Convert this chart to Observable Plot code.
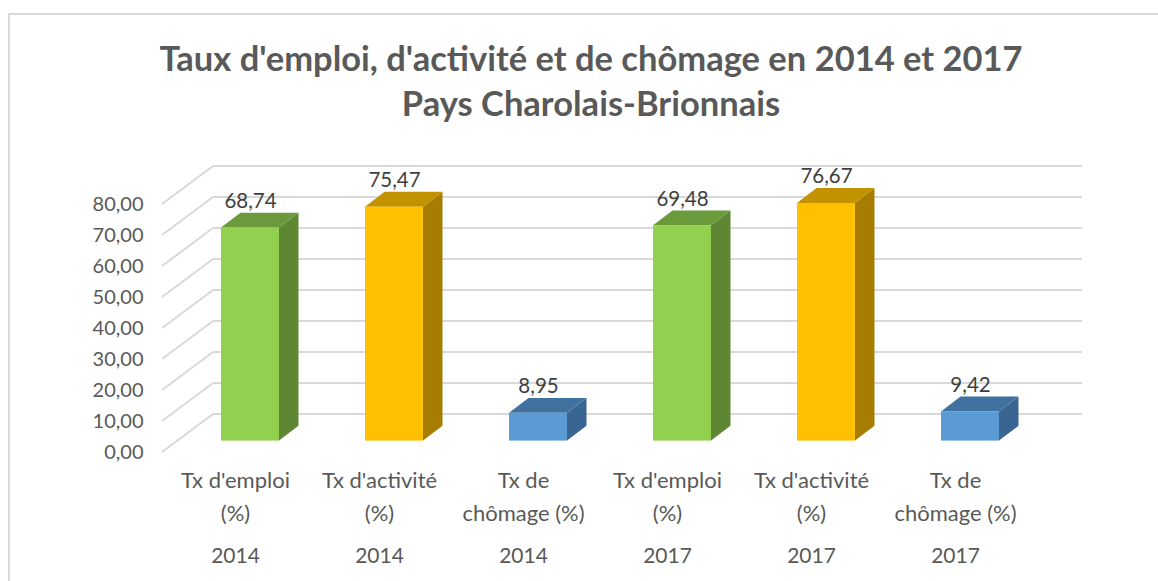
<!DOCTYPE html>
<html>
<head>
<meta charset="utf-8">
<script src="https://cdn.jsdelivr.net/npm/d3@7"></script>
<script src="https://cdn.jsdelivr.net/npm/@observablehq/plot@0.6"></script>
<style>
  html, body { margin: 0; padding: 0; background: #fff; }
  body { width: 1158px; height: 581px; overflow: hidden; position: relative; font-family: Lato, "Open Sans", sans-serif; }
  #frame { position: absolute; left: 8px; top: 13px; width: 1170px; height: 600px; border-left: 2px solid #d9d9d9; border-top: 2px solid #d9d9d9; box-sizing: border-box; }
  #title { position: absolute; left: 0; top: 35px; width: 1182px; text-align: center; color: #595959; font-weight: bold; font-size: 34.5px; line-height: 45px; }
  #chart { position: absolute; left: 0; top: 130px; }
</style>
</head>
<body>
<div id="frame"></div>
<div id="title">Taux d'emploi, d'activité et de chômage en 2014 et 2017<br>Pays Charolais-Brionnais</div>
<div id="chart"></div>
<script>
// ---- data ----
const ids = ["e14", "a14", "c14", "e17", "a17", "c17"];
const indicators = ["Tx d'emploi\n(%)", "Tx d'activité\n(%)", "Tx de\nchômage (%)", "Tx d'emploi\n(%)", "Tx d'activité\n(%)", "Tx de\nchômage (%)"];
const years = ["2014", "2014", "2014", "2017", "2017", "2017"];
const values = [68.74, 75.47, 8.95, 69.48, 76.67, 9.42];
const kinds = ["emploi", "activite", "chomage", "emploi", "activite", "chomage"];
const yTicks = [0, 10, 20, 30, 40, 50, 60, 70, 80];

const palette = {
  emploi:   {front: "#92d050", side: "#5f8733", top: "#6b9a3c"},
  activite: {front: "#ffc000", side: "#a67d00", top: "#c29200"},
  chomage:  {front: "#5b9bd5", side: "#386591", top: "#41729f"}
};

const data = ids.map((id, i) => ({id, indicator: indicators[i], year: years[i], value: values[i], kind: kinds[i]}));
const fmt = v => v.toFixed(2).replace(".", ",");

// depth vector of the 3D box (front plane -> back wall)
const DX = 50, DY = -38;
const F0 = 0.3, F1 = 0.69; // bar front/back depth fractions

function grid3d() {
  return Plot.ruleY(yTicks, {
    y: d => d,
    render(index, scales, values, dims) {
      const svg = d3.create("svg:g");
      const left = dims.marginLeft, right = dims.width - dims.marginRight;
      for (const i of index) {
        const y = scales.y(yTicks[i]);
        svg.append("line").attr("x1", left - 1).attr("y1", y).attr("x2", left + DX).attr("y2", y + DY)
          .attr("stroke", "#d9d9d9").attr("stroke-width", 2);
        svg.append("line").attr("x1", left + DX).attr("y1", y + DY).attr("x2", right + 55).attr("y2", y + DY)
          .attr("stroke", "#d9d9d9").attr("stroke-width", 2);
      }
      return svg.node();
    }
  });
}

function bars3d() {
  return Plot.barY(data, {
    x: "id", y: "value",
    render(index, scales, values, dims) {
      const g = d3.create("svg:g");
      const bw = scales.x.bandwidth();
      const y0 = scales.y(0);
      for (const i of index) {
        const d = data[i];
        const c = palette[d.kind];
        const x = scales.x(d.id), y = scales.y(d.value);
        const fx = F0 * DX, fy = F0 * DY;
        const xl = x + fx, xr = x + bw + fx;
        const sx = (F1 - F0) * DX, sy = (F1 - F0) * DY;
        // side face
        g.append("path").attr("fill", c.side)
          .attr("d", `M${xr},${y0 + fy}L${xr},${y + fy}L${xr + sx},${y + fy + sy}L${xr + sx},${y0 + fy + sy}Z`);
        // top face
        g.append("path").attr("fill", c.top)
          .attr("d", `M${xl},${y + fy}L${xr},${y + fy}L${xr + sx},${y + fy + sy}L${xl + sx},${y + fy + sy}Z`);
        // front face
        g.append("rect").attr("fill", c.front)
          .attr("x", xl).attr("y", y + fy).attr("width", bw).attr("height", y0 - y);
      }
      return g.node();
    }
  });
}

const chart = Plot.plot({
  width: 1158,
  height: 451,
  marginLeft: 163,
  marginRight: 131,
  marginTop: 74,
  marginBottom: 129,
  style: {fontFamily: "Lato, 'Open Sans', sans-serif", background: "transparent", overflow: "visible"},
  x: {domain: ids, paddingInner: 0.6, paddingOuter: 0.3, axis: null},
  y: {domain: [0, 80], axis: null},
  marks: [
    grid3d(),
    bars3d(),
    Plot.text(yTicks, {x: null, y: d => d, text: fmt, frameAnchor: "left", textAnchor: "end", dx: -20, fontSize: 20, fill: "#595959"}),
    Plot.text(data, {x: "id", y: "value", text: d => fmt(d.value), dx: 15, dy: -38, fontSize: 20.5, fill: "#404040"}),
    Plot.text(data, {x: "id", y: 0, text: "indicator", dy: 12, lineHeight: 1.5, lineAnchor: "top", fontSize: 22, fill: "#595959"}),
    Plot.text(data, {x: "id", y: 0, text: "year", dy: 104, fontSize: 21, fill: "#595959"})
  ]
});
document.getElementById("chart").appendChild(chart);
</script>
</body>
</html>
